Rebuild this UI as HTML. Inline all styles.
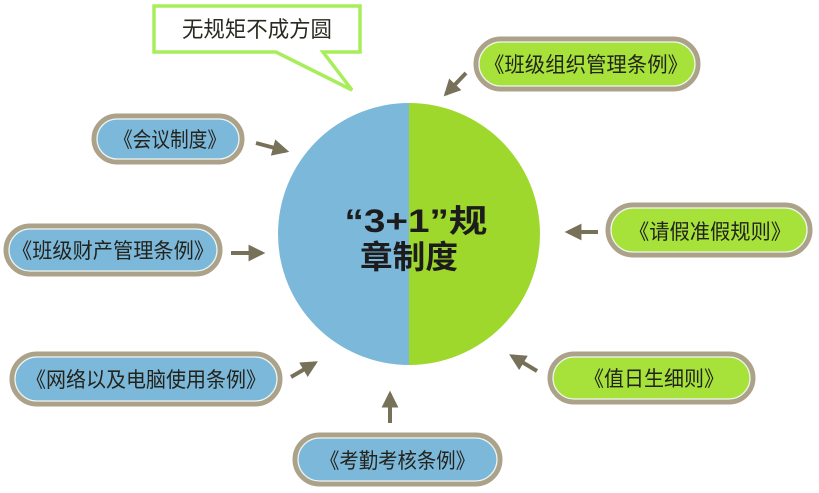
<!DOCTYPE html>
<html><head><meta charset="utf-8"><style>
html,body{margin:0;padding:0;background:#fff;}
svg{display:block;}
text{font-family:"Liberation Sans","Noto Sans CJK SC",sans-serif;}
</style></head><body>
<svg width="819" height="493" viewBox="0 0 819 493" xmlns="http://www.w3.org/2000/svg">
<defs>
<marker id="ah" viewBox="0 0 10 10" refX="8" refY="5" markerWidth="4.2" markerHeight="4.2" orient="auto" markerUnits="strokeWidth">
<path d="M0,0 L10,5 L0,10 Z" fill="#77715a"/></marker>
</defs>
<!-- callout -->
<path d="M154,6 H360 V52 H323 L352,90 L276,52 H154 Z" fill="#fff" stroke="#a8ee5a" stroke-width="3.5" stroke-linejoin="miter"/>
<text x="257" y="37" font-size="22" text-anchor="middle" fill="#2a2a22" textLength="150" lengthAdjust="spacingAndGlyphs">无规矩不成方圆</text>
<!-- circle -->
<path d="M409,103 A131,131 0 0 0 409,365 Z" fill="#7cb8da"/>
<path d="M409,103 A131,131 0 0 1 409,365 Z" fill="#9fd82c"/>
<text x="416" y="232" font-size="32" font-weight="bold" text-anchor="middle" fill="#1c1c1c" textLength="143" lengthAdjust="spacingAndGlyphs">“3+1”规</text>
<text x="409" y="268" font-size="32" font-weight="bold" text-anchor="middle" fill="#1c1c1c" textLength="98" lengthAdjust="spacingAndGlyphs">章制度</text>
<!-- pills -->
<g stroke="#aca28a" stroke-width="5">
<rect x="94" y="116" width="148" height="46" rx="23" fill="#7cb8da"/>
<rect x="6" y="226" width="214" height="48" rx="24" fill="#7cb8da"/>
<rect x="12" y="354" width="268" height="50" rx="25" fill="#7cb8da"/>
<rect x="295" y="435" width="205" height="49" rx="24.5" fill="#7cb8da"/>
<rect x="550" y="354" width="203" height="48" rx="24" fill="#a6e23a"/>
<rect x="608" y="205" width="202" height="50" rx="25" fill="#a6e23a"/>
<rect x="476" y="39" width="222" height="50" rx="25" fill="#a6e23a"/>
</g>
<g stroke="#eef5f0" stroke-width="1.3" fill="none">
<rect x="97" y="119" width="142" height="40" rx="20"/>
<rect x="9" y="229" width="208" height="42" rx="21"/>
<rect x="15" y="357" width="262" height="44" rx="22"/>
<rect x="298" y="438" width="199" height="43" rx="21.5"/>
<rect x="553" y="357" width="197" height="42" rx="21"/>
<rect x="611" y="208" width="196" height="44" rx="22"/>
<rect x="479" y="42" width="216" height="44" rx="22"/>
</g>
<g font-size="21" fill="#23231c" lengthAdjust="spacingAndGlyphs">
<text x="114" y="147" textLength="112" lengthAdjust="spacingAndGlyphs">《会议制度》</text>
<text x="12" y="258" textLength="202" lengthAdjust="spacingAndGlyphs">《班级财产管理条例》</text>
<text x="26" y="387" textLength="240" lengthAdjust="spacingAndGlyphs">《网络以及电脑使用条例》</text>
<text x="320" y="468" textLength="155" lengthAdjust="spacingAndGlyphs">《考勤考核条例》</text>
<text x="584" y="386" textLength="140" lengthAdjust="spacingAndGlyphs">《值日生细则》</text>
<text x="629" y="239" textLength="162" lengthAdjust="spacingAndGlyphs">《请假准假规则》</text>
<text x="484" y="72" textLength="204" lengthAdjust="spacingAndGlyphs">《班级组织管理条例》</text>
</g>
<!-- arrows -->
<g stroke="#77715a" stroke-width="4" marker-end="url(#ah)">
<line x1="466" y1="73" x2="446" y2="94"/>
<line x1="256" y1="143" x2="286" y2="151"/>
<line x1="231" y1="253" x2="262" y2="253"/>
<line x1="291" y1="377" x2="315" y2="363"/>
<line x1="390" y1="423" x2="390" y2="394"/>
<line x1="537" y1="371" x2="512" y2="356"/>
<line x1="598" y1="232" x2="568" y2="232"/>
</g>
</svg>
</body></html>
